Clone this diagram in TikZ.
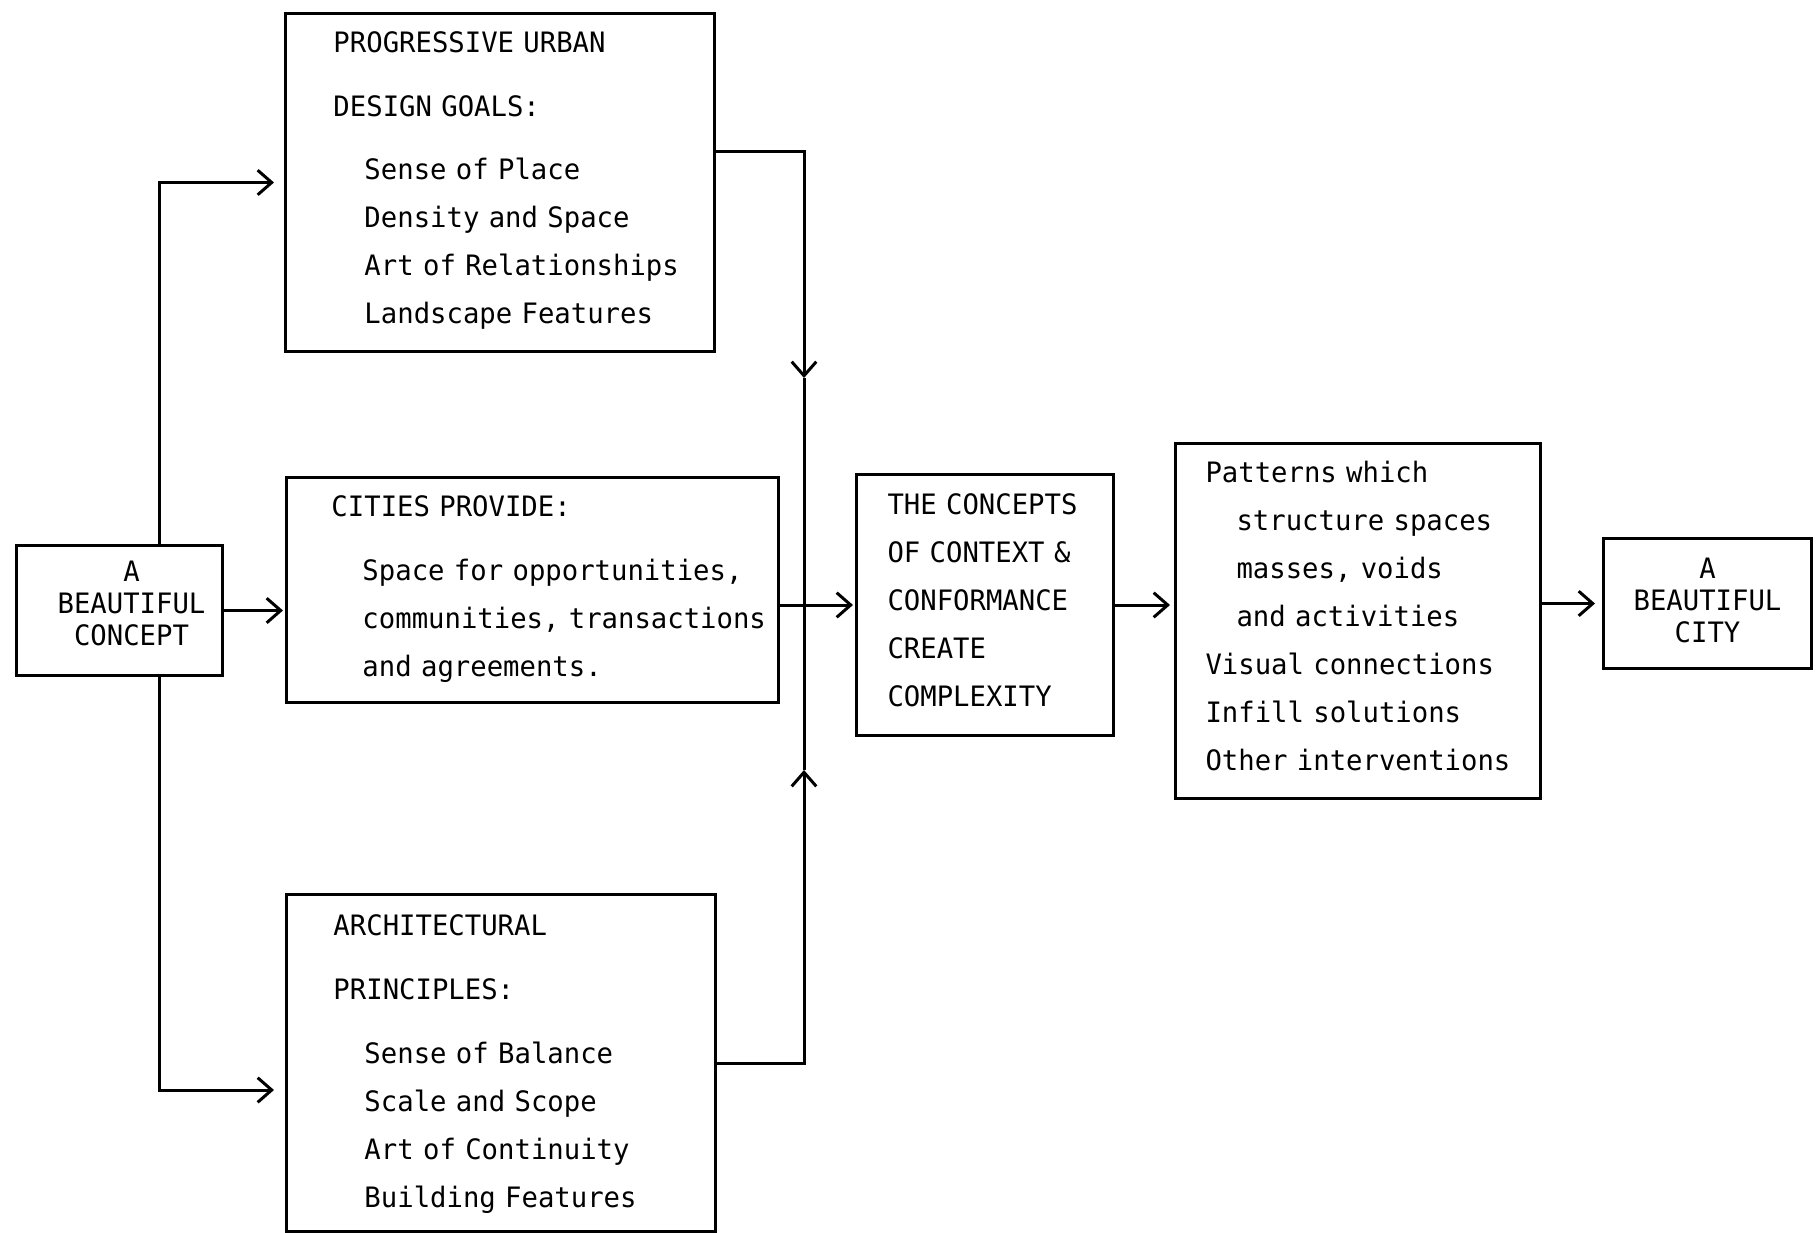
\documentclass[tikz,border=0pt]{standalone}
\usepackage{fontspec}
\setmonofont[FakeStretch=0.97]{DejaVu Sans Mono}
\usetikzlibrary{arrows.meta,positioning,calc}
\newcommand{\ind}{\hspace*{0.31cm}}

\begin{document}
\begin{tikzpicture}[
  font=\ttfamily\fontsize{8pt}{13.66pt}\selectfont,
  box/.style={draw, line width=0.85pt, align=left, inner sep=0pt,
              text width=#1, anchor=north west},
  pad/.style={execute at begin node={\leftskip=#1}},
  nudge/.style={execute at begin node={\leftskip=#1 plus 1fil\rightskip=0pt plus 1fil}},
  tag/.style={draw, line width=0.85pt, align=center, inner sep=0pt,
              text width=#1, anchor=north west,
              font=\ttfamily\fontsize{8pt}{9.1pt}\selectfont},
  flow/.style={-{Straight Barb[length=4pt,width=7pt]}, line width=0.85pt},
  wire/.style={line width=0.85pt},
]
\useasboundingbox (0,0) rectangle (18.19,-12.32);

% ------------------------------------------------------------ start and end
\node[tag=2.06cm, nudge=0.24cm, text height=0.36cm, text depth=0.94cm] (concept) at (0.15,-5.44) {A\\BEAUTIFUL\\CONCEPT};
\node[tag=2.08cm, text height=0.40cm, text depth=0.90cm] (city) at (16.02,-5.37) {A\\BEAUTIFUL\\CITY};

% ------------------------------------------------------------ three sources
\node[box=4.29cm, pad=0.48cm, text height=0.39cm, text depth=2.99cm] (goals) at (2.84,-0.12) {%
  PROGRESSIVE URBAN\\[0.16cm]
  DESIGN GOALS:\\[0.15cm]
  \ind Sense of Place\\
  \ind Density and Space\\
  \ind Art of Relationships\\
  \ind Landscape Features};
\node[box=4.92cm, pad=0.45cm, text height=0.39cm, text depth=1.86cm] (cities) at (2.85,-4.76) {%
  CITIES PROVIDE:\\[0.16cm]
  \ind Space for opportunities,\\
  \ind communities, transactions\\
  \ind and agreements.};
\node[box=4.29cm, pad=0.47cm, text height=0.41cm, text depth=2.96cm] (principles) at (2.85,-8.93) {%
  ARCHITECTURAL\\[0.16cm]
  PRINCIPLES:\\[0.16cm]
  \ind Sense of Balance\\
  \ind Scale and Scope\\
  \ind Art of Continuity\\
  \ind Building Features};

% ------------------------------------------------------------ outcome
\node[box=2.57cm, pad=0.31cm, text height=0.40cm, text depth=2.21cm] (concepts) at (8.55,-4.73) {%
  THE CONCEPTS\\
  OF CONTEXT \&\\
  CONFORMANCE\\
  CREATE\\
  COMPLEXITY};
\node[box=3.65cm, pad=0.30cm, text height=0.39cm, text depth=3.16cm] (patterns) at (11.74,-4.42) {%
  Patterns which\\
  \ind structure spaces\\
  \ind masses, voids\\
  \ind and activities\\
  Visual connections\\
  Infill solutions\\
  Other interventions};

% the concept splits three ways
\draw[flow, shorten >=0.1cm] ([xshift=0.4cm]concept.north) |- (goals.west);
\draw[flow, shorten >=0.02cm] (concept.east) -- (concept.east -| cities.west);
\draw[flow, shorten >=0.11cm] ([xshift=0.4cm]concept.south) |- ([yshift=-0.27cm]principles.west);

% and joins again
\coordinate (jtop) at (8.04,-3.78);
\coordinate (jbot) at (8.04,-7.70);
\draw[flow] ([yshift=0.31cm]goals.east) -| (jtop);
\draw[wire] (jtop) -- (jtop |- concepts.west);
\draw[flow] (principles.east) -| (jbot);
\draw[wire] (jbot) -- (jbot |- concepts.west);
\draw[flow, shorten >=0.02cm] (cities.east |- concepts.west) -- (concepts.west);

\draw[flow, shorten >=0.04cm] (concepts.east) -- (concepts.east -| patterns.west);
\draw[flow, shorten >=0.07cm] (patterns.east |- city.west) -- (city.west);

\end{tikzpicture}
\end{document}
